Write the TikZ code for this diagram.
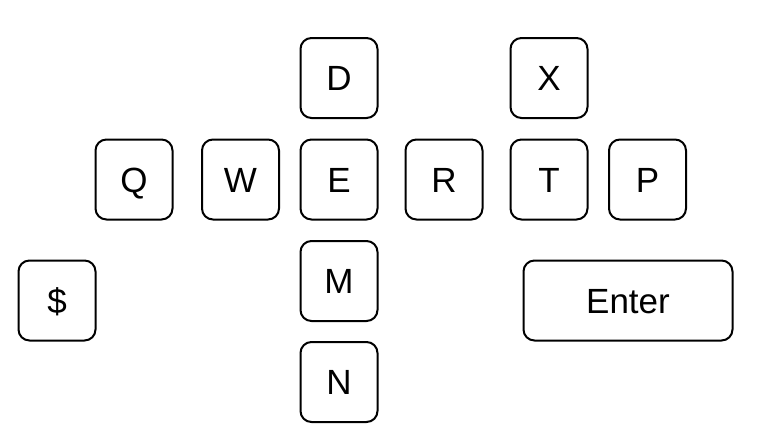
\documentclass[tikz,border=0pt]{standalone}
\usepackage{fontspec}
\setmainfont{Liberation Sans}
\begin{document}
\begin{tikzpicture}[x=1pt,y=-1pt,
  keybox/.style={draw=black, line width=2pt, rounded corners=11pt, inner sep=0pt,
    minimum width=77pt, minimum height=80pt, text height=25pt, text depth=0pt,
    font=\fontsize{35}{40}\selectfont, text=black}]
\useasboundingbox (0,0) rectangle (766,442);
\node[keybox] (D) at (339,78) {D};
\node[keybox] (X) at (549,78) {X};
\node[keybox] (Q) at (134,179.5) {Q};
\node[keybox] (W) at (240.5,179.5) {W};
\node[keybox] (E) at (339,179.5) {E};
\node[keybox] (R) at (444,179.5) {R};
\node[keybox] (T) at (549,179.5) {T};
\node[keybox] (P) at (647.5,179.5) {P};
\node[keybox] (M) at (339,281) {M};
\node[keybox] (S) at (57,300.5) {\$};
\node[keybox, minimum width=209pt] (Enter) at (628,300.5) {Enter};
\node[keybox] (N) at (339,382) {N};
\end{tikzpicture}
\end{document}
